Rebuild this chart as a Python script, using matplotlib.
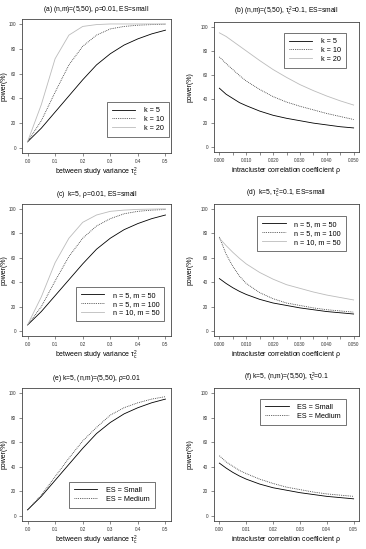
import numpy as np
import matplotlib
matplotlib.use('Agg')
import matplotlib.pyplot as plt

plt.rcParams['font.family'] = ['Liberation Sans', 'DejaVu Sans']
plt.rcParams['mathtext.fontset'] = 'custom'
plt.rcParams['mathtext.rm'] = 'Liberation Sans'
plt.rcParams['mathtext.it'] = 'Liberation Sans'

# x grids
tau = [0.0, 0.05, 0.1, 0.15, 0.2, 0.25, 0.3, 0.35, 0.4, 0.45, 0.5]
rho = [0.0, 0.0025, 0.005, 0.0075, 0.01, 0.015, 0.02, 0.025, 0.03, 0.035, 0.04, 0.045, 0.05]

# (a) power vs tau^2 for k
a_k5 = [5, 16, 29, 42, 55, 67, 76, 83, 88, 92, 95]
a_k10 = [5, 22, 45, 67, 82, 91, 96, 98, 99, 99.5, 99.8]
a_k20 = [5, 35, 72, 91, 98, 99.5, 100, 100, 100, 100, 100]

# (b) power vs rho for k
b_k5 = [49, 44, 40.5, 37, 34.5, 30, 26.5, 24, 22, 20, 18.5, 17, 16]
b_k10 = [75, 69.5, 64.5, 59.5, 55, 48, 42, 37.5, 34, 31, 28, 25.5, 23]
b_k20 = [95, 92, 88, 84, 80, 72, 64.5, 58, 52, 47, 42.5, 38.5, 35]

# (c) power vs tau^2 for (n, m)
c_5_50 = [5, 16, 29, 42, 55, 67, 76, 83, 88, 92, 95]
c_5_100 = [5, 20, 41, 61, 76, 86, 92, 96, 98, 99, 99.5]
c_10_50 = [5, 28, 56, 76, 89, 95, 98, 99, 99.6, 99.8, 100]

# (d) power vs rho for (n, m)
d_5_50 = [43, 39, 35.5, 32.5, 30, 26, 23, 21, 19, 17.5, 16, 15, 14]
d_5_100 = [77, 63, 53, 45, 39, 31.5, 26.5, 23, 21, 19, 17.5, 16.5, 15.5]
d_10_50 = [76, 70, 64.5, 59.5, 55, 48, 42.5, 38, 35, 32, 29.5, 27.5, 25.5]

# (e) power vs tau^2 for ES
e_small = [5, 16, 29, 42, 55, 67, 76, 83, 88, 92, 95]
e_medium = [5, 17, 32, 47, 61, 72, 82, 88, 92, 95, 97]

# (f) power vs rho for ES
f_small = [43, 39, 35.5, 32.5, 30, 26, 23, 21, 19, 17.5, 16, 15, 14]
f_medium = [49, 44, 40.5, 37, 34.5, 30, 26.5, 23.5, 21.5, 19.5, 18, 17, 16]

W, H = 366, 549
fig = plt.figure(figsize=(W / 100, H / 100), dpi=100)

styles = [dict(color='black', ls='-'),
          dict(color='#333333', ls=(0, (1, 1.2))),
          dict(color='#bbbbbb', ls='-')]

def mkax(l, r, t, b):
    return fig.add_axes([l / W, 1 - b / H, (r - l) / W, (b - t) / H])

def setup(ax, xs, title, xlabel, xticks, xlabs, ylab_x, minor=None):
    lo, hi = xs[0], xs[-1]
    pad = 0.04 * (hi - lo)
    ax.set_xlim(lo - pad, hi + pad)
    ax.set_ylim(-4, 104)
    ax.set_xticks(xticks)
    ax.set_xticklabels(xlabs)
    if minor is not None:
        ax.set_xticks(minor, minor=True)
    ax.set_yticks([0, 20, 40, 60, 80, 100])
    ax.tick_params(labelsize=3.3, length=2.5, width=0.4, pad=1.8, colors='#333333')
    ax.tick_params(which='minor', length=2.5, width=0.4, colors='#333333')
    for s in ax.spines.values():
        s.set_linewidth(0.6)
        s.set_color('#444444')
    ax.set_title(title, fontsize=4.9, pad=6)
    ax.set_xlabel(xlabel, fontsize=5.0, labelpad=1.5)
    ax.set_ylabel('power(%)', fontsize=5.0)
    ax.yaxis.set_label_coords(ylab_x, 0.5)

def leg(ax, labels, loc, anchor):
    lg = ax.legend(labels, loc=loc, bbox_to_anchor=anchor, fontsize=5.2,
                   frameon=True, fancybox=False, handlelength=3.2,
                   borderpad=0.7, labelspacing=0.25, handletextpad=1.2,
                   borderaxespad=0)
    lg.get_frame().set_edgecolor('#333333')
    lg.get_frame().set_linewidth(0.6)

tau_lab = r'between study variance $\tau_c^2$'
rho_lab = r'intracluster correlation coefficient $\rho$'
t_ticks = [0.0, 0.1, 0.2, 0.3, 0.4, 0.5]
t_labs = ['0.0', '0.1', '0.2', '0.3', '0.4', '0.5']
r_ticks = [0.0, 0.01, 0.02, 0.03, 0.04, 0.05]
r_labs3 = ['0.000', '0.010', '0.020', '0.030', '0.040', '0.050']
r_labs2 = ['0.00', '0.01', '0.02', '0.03', '0.04', '0.05']
r_minor = [0.005, 0.015, 0.025, 0.035, 0.045]

# (a)
ax = mkax(22, 171, 19, 153)
for ys, st in zip([a_k5, a_k10, a_k20], styles):
    ax.plot(tau, ys, lw=0.6, **st)
setup(ax, tau, r'(a) (n,m)=(5,50), $\rho$=0.01, ES=small', tau_lab, t_ticks, t_labs, -0.1)
leg(ax, ['k = 5', 'k = 10', 'k = 20'], 'lower right', (0.985, 0.12))

# (b)
ax = mkax(214, 359, 22, 152)
for ys, st in zip([b_k5, b_k10, b_k20], styles):
    ax.plot(rho, ys, lw=0.6, **st)
setup(ax, rho, r'(b) (n,m)=(5,50), $\tau_c^2$=0.1, ES=small', rho_lab, r_ticks, r_labs3,
      -0.14, minor=r_minor)
leg(ax, ['k = 5', 'k = 10', 'k = 20'], 'upper right', (0.91, 0.915))

# (c)
ax = mkax(22, 171, 204, 336)
for ys, st in zip([c_5_50, c_5_100, c_10_50], styles):
    ax.plot(tau, ys, lw=0.6, **st)
setup(ax, tau, r'(c)  k=5, $\rho$=0.01, ES=small', tau_lab, t_ticks, t_labs, -0.1)
leg(ax, ['n = 5, m = 50', 'n = 5, m = 100', 'n = 10, m = 50'], 'lower right', (0.955, 0.11))

# (d)
ax = mkax(214, 359, 204, 336)
for ys, st in zip([d_5_50, d_5_100, d_10_50], styles):
    ax.plot(rho, ys, lw=0.6, **st)
setup(ax, rho, r'(d)  k=5, $\tau_c^2$=0.1, ES=small', rho_lab, r_ticks, r_labs3,
      -0.14, minor=r_minor)
leg(ax, ['n = 5, m = 50', 'n = 5, m = 100', 'n = 10, m = 50'], 'upper right', (0.91, 0.91))

# (e)
ax = mkax(22, 171, 388, 521)
for ys, st in zip([e_small, e_medium], styles):
    ax.plot(tau, ys, lw=0.6, **st)
setup(ax, tau, r'(e) k=5, (n,m)=(5,50), $\rho$=0.01', tau_lab, t_ticks, t_labs, -0.1)
leg(ax, ['ES = Small', 'ES = Medium'], 'lower right', (0.89, 0.1))

# (f)
ax = mkax(214, 359, 388, 521)
for ys, st in zip([f_small, f_medium], styles):
    ax.plot(rho, ys, lw=0.6, **st)
setup(ax, rho, r'(f) k=5, (n,m)=(5,50), $\tau_c^2$=0.1', rho_lab, r_ticks, r_labs2, -0.14)
leg(ax, ['ES = Small', 'ES = Medium'], 'upper right', (0.91, 0.92))

fig.savefig('out.png', dpi=100)
